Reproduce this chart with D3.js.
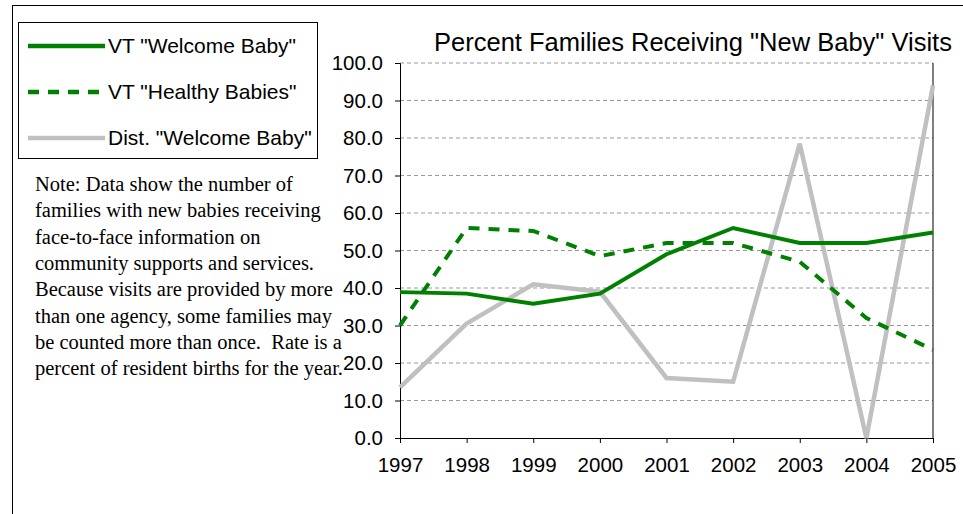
<!DOCTYPE html>
<html><head><meta charset="utf-8">
<script src="https://cdn.jsdelivr.net/npm/d3@7"></script>
<style>body{margin:0;background:#fff} text{white-space:pre}</style>
</head><body>
<svg id="c" width="963" height="514"></svg>
<script>
const years = [1997, 1998, 1999, 2000, 2001, 2002, 2003, 2004, 2005];
const welcomeBaby = [38.9, 38.5, 35.8, 38.5, 49.0, 56.0, 52.0, 52.0, 54.8];
const healthyBabies = [30.0, 56.0, 55.2, 48.5, 52.0, 52.0, 47.0, 32.0, 23.5];
const distWelcome = [13.5, 30.5, 41.0, 39.0, 16.0, 15.0, 78.5, 0.0, 94.0];
const yTicks = [0, 10, 20, 30, 40, 50, 60, 70, 80, 90, 100];
const noteLines = [
  "Note: Data show the number of",
  "families with new babies receiving",
  "face-to-face information on",
  "community supports and services.",
  "Because visits are provided by more",
  "than one agency, some families may",
  "be counted more than once.  Rate is a",
  "percent of resident births for the year."
];

const svg = d3.select("#c");
const font = "Liberation Sans, Arial, sans-serif";

// outer frame
svg.append("rect").attr("x", 12.5).attr("y", 5.5).attr("width", 970).attr("height", 540)
  .attr("fill", "none").attr("stroke", "#000");

const x = d3.scalePoint().domain(years).range([400, 933]);
const y = d3.scaleLinear().domain([0, 100]).range([438, 63]);

// gridlines
svg.append("g").selectAll("line").data(yTicks.slice(1)).join("line")
  .attr("x1", 400).attr("x2", 933).attr("y1", d => y(d)).attr("y2", d => y(d))
  .attr("stroke", "#999").attr("stroke-dasharray", "4,3").attr("stroke-width", 1);

// axes
const yAxis = svg.append("g").attr("transform", "translate(400,0)")
  .call(d3.axisLeft(y).tickValues(yTicks).tickFormat(d3.format(".1f")).tickSize(5).tickPadding(12));
const xAxis = svg.append("g").attr("transform", "translate(0,438)")
  .call(d3.axisBottom(x).tickSize(5).tickPadding(14).tickFormat(d => d));
[yAxis, xAxis].forEach(a => {
  a.select(".domain").attr("stroke", "#000");
  a.selectAll("text").attr("font-family", font).attr("font-size", 20.5).attr("fill", "#000");
});
// right axis line
svg.append("line").attr("x1", 933).attr("x2", 933).attr("y1", 63).attr("y2", 438).attr("stroke", "#000");

const line = d3.line().x((d, i) => x(years[i])).y(d => y(d));
svg.append("path").datum(distWelcome).attr("d", line).attr("fill", "none")
  .attr("stroke", "#c0c0c0").attr("stroke-width", 4.5);
svg.append("path").datum(healthyBabies).attr("d", line).attr("fill", "none")
  .attr("stroke", "#008000").attr("stroke-width", 4).attr("stroke-dasharray", "11,9");
svg.append("path").datum(welcomeBaby).attr("d", line).attr("fill", "none")
  .attr("stroke", "#008000").attr("stroke-width", 4);

// title
svg.append("text").attr("x", 693).attr("y", 51).attr("text-anchor", "middle")
  .attr("font-family", font).attr("font-size", 25.5).text('Percent Families Receiving "New Baby" Visits');

// legend
svg.append("rect").attr("x", 18.5).attr("y", 22.5).attr("width", 299).attr("height", 136)
  .attr("fill", "#fff").attr("stroke", "#000");
const legend = [
  { label: 'VT "Welcome Baby"', color: "#008000", dash: null, yy: 46 },
  { label: 'VT "Healthy Babies"', color: "#008000", dash: "11,9", yy: 92 },
  { label: 'Dist. "Welcome Baby"', color: "#c0c0c0", dash: null, yy: 138 }
];
const lg = svg.append("g").selectAll("g").data(legend).join("g");
lg.append("line").attr("x1", 28).attr("x2", 105).attr("y1", d => d.yy).attr("y2", d => d.yy)
  .attr("stroke", d => d.color).attr("stroke-width", 4.5).attr("stroke-dasharray", d => d.dash);
lg.append("text").attr("x", 108).attr("y", d => d.yy + 7).attr("font-family", font)
  .attr("font-size", 21).text(d => d.label);

// note
svg.append("g").selectAll("text").data(noteLines).join("text")
  .attr("x", 35).attr("y", (d, i) => 191 + i * 26.3)
  .attr("font-family", "Liberation Serif, Times New Roman, serif").attr("font-size", 20.5)
  .text(d => d);
</script>
</body></html>
